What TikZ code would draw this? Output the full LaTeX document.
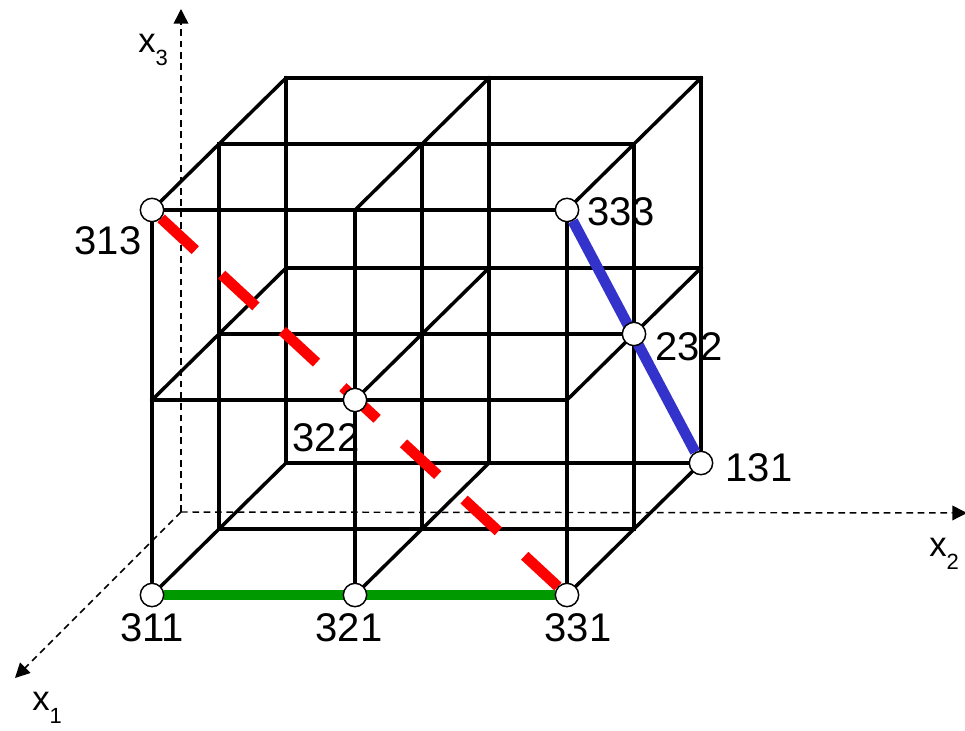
\documentclass[tikz,border=0pt]{standalone}
\usepackage{fontspec}
\setmainfont{Liberation Sans}
\usetikzlibrary{arrows.meta,backgrounds}
\definecolor{PathRed}{HTML}{FF0000}
\definecolor{PathGreen}{HTML}{009900}
\definecolor{PathBlue}{HTML}{3333CC}
\newcommand{\lowidx}[1]{\raisebox{-9.75pt}{\fontsize{16.5}{18}\selectfont #1}}

\begin{document}
\begin{tikzpicture}[x=0.75pt,y=-0.75pt,
    gridline/.style={line width=2.6pt,line cap=rect},
    axis/.style={line width=1.1pt,dash pattern=on 5pt off 3.5pt,-{Triangle[length=11pt,width=11pt]}},
    pt/.style={circle,draw,line width=1.1pt,fill=white,minimum size=17.5pt,inner sep=0pt},
    lbl/.style={inner sep=0pt,font=\fontsize{30}{36}\selectfont},
    axlbl/.style={inner sep=0pt,anchor=base west,font=\fontsize{26}{30}\selectfont},
    colpath/.style={line width=8pt}]
  \useasboundingbox (0,0) rectangle (965,731);

  % lattice points
  \node[pt] (p311) at (152,595) {};
  \node[pt] (p321) at (355,595) {};
  \node[pt] (p331) at (567,595) {};
  \node[pt] (p313) at (152,210) {};
  \node[pt] (p322) at (355,400) {};
  \node[pt] (p333) at (567,210) {};
  \node[pt] (p232) at (634,334) {};
  \node[pt] (p131) at (701,463) {};

  \node[lbl] (l311) at (152,628) {311};
  \node[lbl] (l321) at (349,628) {321};
  \node[lbl] (l331) at (578,628) {331};
  \node[lbl] (l313) at (108,241) {313};
  \node[lbl] (l322) at (326,438) {322};
  \node[lbl] (l333) at (621,212) {333};
  \node[lbl] (l232) at (689,347) {232};
  \node[lbl] (l131) at (759,468) {131};

  % axes
  \coordinate (o) at (181,512);
  \coordinate (e1) at (15,678);
  \coordinate (e2) at (967,513);
  \coordinate (e3) at (181,9);
  \node[axlbl] (lx1) at (32,710) {x\lowidx{1}};
  \node[axlbl] (lx2) at (929,556) {x\lowidx{2}};
  \node[axlbl] (lx3) at (138,53) {x\lowidx{3}};

  \begin{scope}[on background layer]
    \draw[axis] (o) -- (e1);
    \draw[axis] (o) -- (e2);
    \draw[axis] (o) -- (e3);

    % grid of the cube
    \foreach \dx/\dy in {0/0,67/-66,134/-132} {
      \foreach \h in {0,-195,-385}
        \draw[gridline] ({152+\dx},{595+\dy+\h}) -- ++(415,0);
      \foreach \w in {0,203,415}
        \draw[gridline] ({152+\dx+\w},{595+\dy}) -- ++(0,-385);
    }
    \foreach \w in {0,203,415}
      \foreach \h in {0,-195,-385}
        \draw[gridline] ({152+\w},{595+\h}) -- ++(134,-132);

    \draw[colpath,PathGreen] (p311) -- (p331);
    \draw[colpath,PathBlue] (p333) -- (p131);
    \draw[colpath,PathRed,dash pattern=on 35pt off 27pt] (p313) -- (p331);
  \end{scope}
\end{tikzpicture}
\end{document}
